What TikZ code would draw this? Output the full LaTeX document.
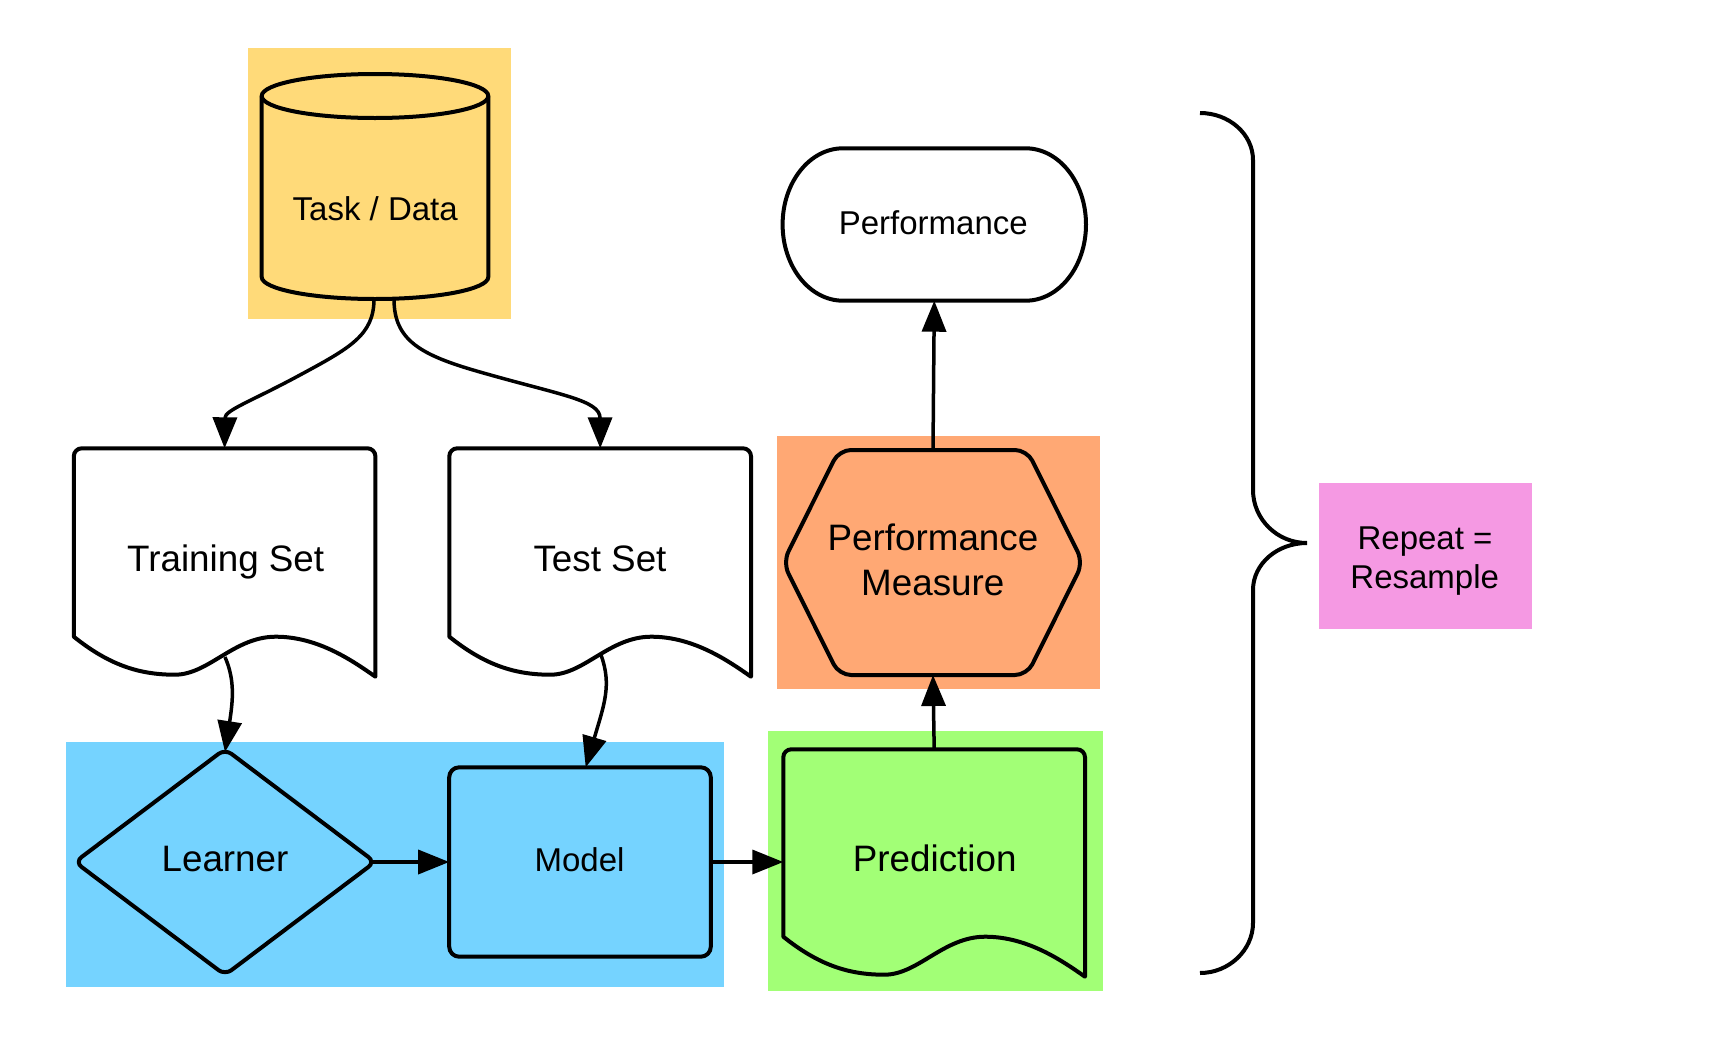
\documentclass[tikz,border=0pt]{standalone}
\usepackage{fontspec}
\setmainfont{Liberation Sans}
\usetikzlibrary{arrows.meta}
\definecolor{cyellow}{HTML}{FFDA79}
\definecolor{cblue}{HTML}{75D3FF}
\definecolor{corange}{HTML}{FFA874}
\definecolor{cgreen}{HTML}{A2FF76}
\definecolor{cpink}{HTML}{F599E3}
\newcommand{\docshape}[5]{%
 \draw[shapeline, fill=#5] (#1,#4) -- (#1,{#2+8}) arc[start angle=180,end angle=270,radius=8]
   -- ({#3-8},#2) arc[start angle=270,end angle=360,radius=8]
   -- (#3,{#4+40}) .. controls ({#3-21.6},{#4+25}) and ({#1+245},{#4}) .. ({#1+202},#4)
   .. controls ({#1+160},#4) and ({#1+135},{#4+38}) .. ({#1+101},{#4+38})
   .. controls ({#1+65},{#4+38}) and ({#1+35},{#4+28}) .. (#1,#4) -- cycle;}
\begin{document}
\begin{tikzpicture}[x=1pt,y=-1pt,
  shapeline/.style={line width=4pt, line join=round},
  conn/.style={line width=3.5pt, -{Triangle[length=31pt,width=24pt]}},
  anchorbox/.style={inner sep=0pt, outer sep=0pt, draw=none},
  bigtxt/.style={inner sep=0pt, anchor=base, font=\fontsize{36.8pt}{44pt}\selectfont},
  smalltxt/.style={inner sep=0pt, anchor=base, font=\fontsize{33pt}{40pt}\selectfont}]
\useasboundingbox (0,0) rectangle (1725,1050);
% backgrounds
\fill[cyellow] (247.7,47.7) rectangle (511,319.3);
\fill[cblue] (66,742.3) rectangle (724,986.7);
\fill[cgreen] (767.5,731) rectangle (1102.7,991);
\fill[corange] (776.7,436) rectangle (1100,689.3);
\fill[cpink] (1319,483) rectangle (1532,629);
% cylinder
\draw[shapeline, fill=cyellow] (261.7,96) -- (261.7,277)
  arc[start angle=180, end angle=0, x radius=113.3, y radius=22]
  -- (488.3,96) arc[start angle=0, end angle=-180, x radius=113.3, y radius=22] -- cycle;
\draw[shapeline] (261.7,96) arc[start angle=180, end angle=0, x radius=113.3, y radius=22];
% documents
\docshape{73.8}{448.3}{375.4}{636.7}{white}
\docshape{449.3}{448.3}{751}{636.7}{white}
\docshape{783.3}{749.3}{1085}{936.7}{cgreen}
% diamond
\draw[shapeline, fill=cblue, rounded corners=8pt] (225,749) -- (375,862) -- (225,975) -- (75,862) -- cycle;
% model
\draw[shapeline, fill=cblue, rounded corners=10pt] (449.2,767.3) rectangle (710.8,956.7);
% hexagon
\draw[shapeline, fill=corange, rounded corners=12pt] (839,450) -- (1027,450) -- (1083,562.5) -- (1027,675) -- (839,675) -- (783,562.5) -- cycle;
% performance terminal
\draw[shapeline, fill=white] (843,148.3) -- (1025.6,148.3)
  arc[start angle=-90, end angle=90, x radius=60.4, y radius=76.2]
  -- (843,300.7) arc[start angle=90, end angle=270, x radius=60.4, y radius=76.2] -- cycle;
% brace
\draw[line width=4pt] (1200,113) .. controls (1229,113) and (1253,134) .. (1253,160)
  -- (1253,490) .. controls (1253,519) and (1277,543) .. (1307,543)
  .. controls (1277,543) and (1253,564) .. (1253,590)
  -- (1253,923) .. controls (1253,950) and (1229,973) .. (1200,973);
% anchor nodes
\node[anchorbox, minimum width=226.6pt, minimum height=225pt] (data) at (375,186.5) {};
\node[anchorbox, minimum width=301.6pt, minimum height=228pt] (train) at (224.6,562.3) {};
\node[anchorbox, minimum width=301.7pt, minimum height=228pt] (test) at (600.2,562.3) {};
\node[anchorbox, minimum width=294pt, minimum height=220pt] (learner) at (225,862) {};
\node[anchorbox, minimum width=261.6pt, minimum height=189.4pt] (model) at (580,862) {};
\node[anchorbox, minimum width=301.7pt, minimum height=225.4pt] (pred) at (934.2,862) {};
\node[anchorbox, minimum width=297.6pt, minimum height=225pt] (pm) at (933,562.5) {};
\node[anchorbox, minimum width=303.4pt, minimum height=152.4pt] (perf) at (934.3,224.5) {};
\coordinate (data-out1) at (374,299);
\coordinate (data-out2) at (394,299);
\coordinate (train-out) at (225,657);
\coordinate (test-out) at (601,655);
\coordinate (model-in) at (585.7,767.3);
% texts
\node[smalltxt] (data-t) at (375.2,220) {Task / Data};
\node[bigtxt] (train-t) at (225.7,571) {Training Set};
\node[bigtxt] (test-t) at (600,571) {Test Set};
\node[bigtxt] (learner-t) at (225,871) {Learner};
\node[smalltxt] (model-t) at (579.5,871) {Model};
\node[bigtxt] (pred-t) at (934.7,871) {Prediction};
\node[bigtxt] (pm-t1) at (933,550) {Performance};
\node[bigtxt] (pm-t2) at (932.8,595) {Measure};
\node[smalltxt] (perf-t) at (933.3,234) {Performance};
\node[smalltxt] (rep-t1) at (1425,549) {Repeat =};
\node[smalltxt] (rep-t2) at (1424.7,588.3) {Resample};
% connectors
\draw[conn] (data-out1) .. controls (374,335) and (350,348) .. (300,375)
  .. controls (250,402) and (225,410) .. (train.north);
\draw[conn] (data-out2) .. controls (394,340) and (420,355) .. (480,372)
  .. controls (560,395) and (600,400) .. (test.north);
\draw[conn] (train-out) .. controls (235,680) and (233,700) .. (learner.north);
\draw[conn] (test-out) .. controls (612,685) and (604,705) .. (model-in);
\draw[conn] (learner.east) -- (model.west);
\draw[conn] (model.east) -- (pred.west);
\draw[conn] (pred.north) -- (pm.south);
\draw[conn] (pm.north) -- (perf.south);
\end{tikzpicture}
\end{document}
